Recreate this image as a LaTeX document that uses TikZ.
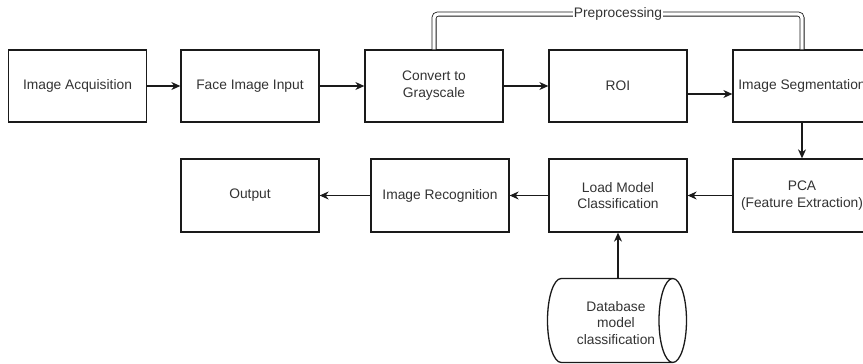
\documentclass[tikz,border=0pt]{standalone}
\usepackage{fontspec}
\setmainfont{Liberation Sans}
\usetikzlibrary{shapes.geometric,arrows.meta}
\definecolor{txt}{HTML}{333333}
\definecolor{ln}{HTML}{1A1A1A}
\begin{document}
\begin{tikzpicture}[x=1pt,y=-1pt,
  font=\fontsize{13.8}{16.8}\selectfont,
  box/.style={draw=ln,line width=1.3pt,rectangle,minimum width=138pt,minimum height=72pt,inner sep=0pt,align=center,text=txt},
  db/.style={draw=ln,line width=1.3pt,cylinder,aspect=0.55,minimum height=139pt,minimum width=84pt,inner sep=0pt,text=txt,shape border rotate=0},
  arr/.style={draw=ln,line width=1.1pt,-{Stealth[length=9pt,width=8pt]}},
  dbl/.style={draw=ln,double=white,double distance=3.4pt,line width=0.8pt,rounded corners=4pt}]
\useasboundingbox (0,0) rectangle (863,364);
\fill[white] (0,0) rectangle (863,364);
\clip (0,0) rectangle (863,364);
\node[box] (acq) at (77.5,86) {Image Acquisition};
\node[box] (face) at (250,86) {Face Image Input};
\node[box] (gray) at (434,86) {Convert to\\Grayscale};
\node[box] (roi) at (618,86) {ROI};
\node[box] (seg) at (802,86) {Image Segmentation};
\node[box,minimum height=73pt] (out) at (250,195.5) {Output};
\node[box,minimum height=73pt] (rec) at (440,195.5) {Image Recognition};
\node[box,minimum height=73pt] (load) at (618,195.5) {Load Model\\Classification};
\node[box,minimum height=73pt] (pca) at (802,195.5) {PCA\\(Feature Extraction)};
\node[db,anchor=shape center] (base) at (617,320.5) {\rule{0pt}{50pt}};
\node[text=txt,align=center,inner sep=0pt] (basetxt) at ([xshift=-1pt,yshift=-2.5pt]base.shape center) {Database\\model\\classification};
\draw[arr] (acq) -- (face);
\draw[arr] (face) -- (gray);
\draw[arr] (gray) -- (roi);
\draw[arr] ([yshift=-8pt]roi.east) -- ([yshift=-8pt]seg.west);
\draw[arr] (seg) -- (pca);
\draw[arr] (pca) -- (load);
\draw[arr] (load) -- (rec);
\draw[arr] (rec) -- (out);
\draw[arr] (load.south |- base.north) -- (load.south);
\coordinate (pl) at (434,14);
\coordinate (pr) at (802,14);
\draw[dbl] (gray.north) -- (pl) -- (pr) -- (seg.north);
\node[fill=white,inner sep=1pt,text=txt] (pre) at (618,14) {Preprocessing};
\end{tikzpicture}
\end{document}
